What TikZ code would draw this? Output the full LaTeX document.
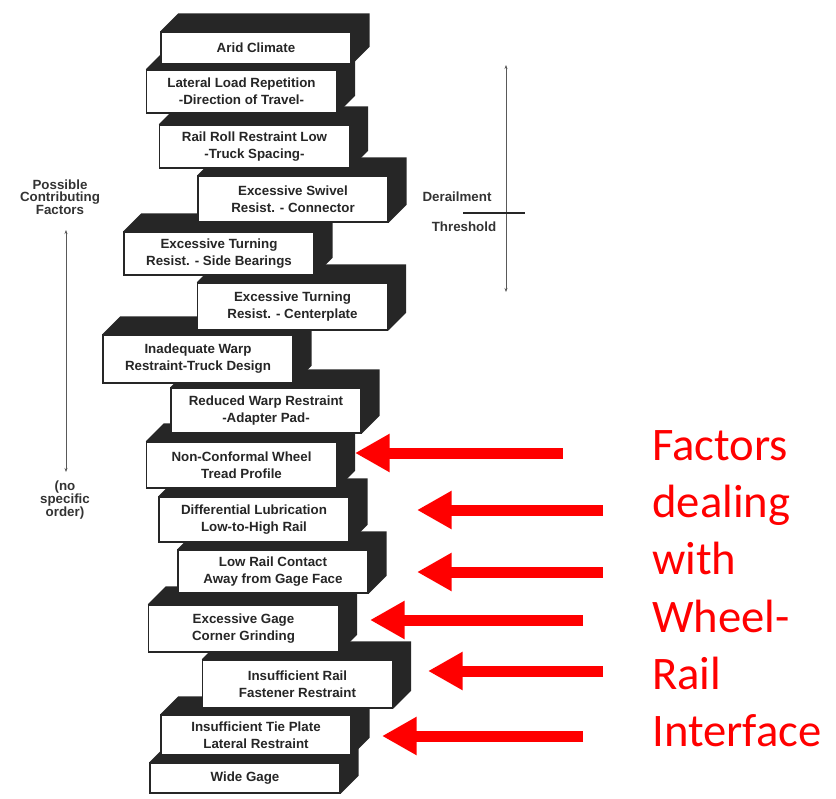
\documentclass[tikz,border=0pt]{standalone}
\usepackage{fontspec}
\setsansfont{Liberation Sans}
\newfontfamily\redfont{Carlito}
\usepackage{tikz}
\usetikzlibrary{arrows.meta,backgrounds}

\begin{document}
\begin{tikzpicture}[x=0.75pt,y=-0.75pt,
    blk/.style={draw=black!85, line width=1.1pt, fill=white, minimum width=142.5pt,
        inner sep=0pt, align=center, text=black!85,
        font=\sffamily\bfseries\fontsize{10}{12.75}\selectfont},
    side/.style={fill=black!85},
    lbl/.style={inner sep=0pt, align=center, text=black!80,
        font=\sffamily\bfseries\fontsize{10}{9.5}\selectfont},
    redarrow/.style={red, line width=8.25pt, -{Triangle[length=26pt,width=27pt]}}]
                \useasboundingbox (0,0) rectangle (836,799);

                \node[blk, minimum height=24pt]    (b1)  at (256,48)    {Arid Climate};
                \node[blk, minimum height=32.25pt] (b2)  at (241.5,91.5) {Lateral Load Repetition\\-Direction of Travel-};
                \node[blk, minimum height=32.25pt] (b3)  at (254.5,146.5) {Rail Roll Restraint Low\\-Truck Spacing-};
                \node[blk, minimum height=34.5pt]  (b4)  at (293,199)   {Excessive Swivel\\Resist. - Connector};
                \node[blk, minimum height=32.25pt] (b5)  at (219,253.5) {Excessive Turning\\Resist. - Side Bearings};
                \node[blk, minimum height=35.25pt] (b6)  at (292.5,306.5) {Excessive Turning\\Resist. - Centerplate};
                \node[blk, minimum height=36pt]    (b7)  at (198,359)   {Inadequate Warp\\Restraint-Truck Design};
                \node[blk, minimum height=33.75pt] (b8)  at (266,410.5) {Reduced Warp Restraint\\-Adapter Pad-};
                \node[blk, minimum height=34.5pt]  (b9)  at (241.5,465) {Non-Conformal Wheel\\Tread Profile};
                \node[blk, minimum height=33.75pt] (b10) at (254,519.5) {Differential Lubrication\\Low-to-High Rail};
                \node[blk, minimum height=32.25pt] (b11) at (273,571.5) {Low Rail Contact\\Away from Gage Face};
                \node[blk, minimum height=35.25pt] (b12) at (243.5,628.5) {Excessive Gage\\Corner Grinding};
                \node[blk, minimum height=36pt]    (b13) at (297.5,684) {Insufficient Rail\\Fastener Restraint};
                \node[blk, minimum height=30pt]    (b14) at (256,735)   {Insufficient Tie Plate\\Lateral Restraint};
                \node[blk, minimum height=22.5pt]  (b15) at (245,778)   {Wide Gage};

                \begin{scope}[on background layer]
                \foreach \n in {1,...,15}
                    \fill[side] (b\n.north west) -- ++(18,-18) -- ([shift={(18,-18)}]b\n.north east)
                        -- ([shift={(18,-18)}]b\n.south east) -- (b\n.south east) -- (b\n.north east) -- cycle;
                \end{scope}

                \node[lbl] (pcf) at (60,197) {Possible\\Contributing\\Factors};
                \node[lbl] (nso) at (65,500) {(no\\specific\\order)};
                \coordinate (pt) at (66,230);
                \coordinate (pb) at (66,472);
                \draw[black!65, line width=0.6pt, {Stealth[length=3pt]}-{Stealth[length=3pt]}] (pt) -- (pb);

                \node[lbl] (der) at (457,197) {Derailment};
                \node[lbl] (thr) at (464,227) {Threshold};
                \coordinate (dt) at (506,65);
                \coordinate (db) at (506,292);
                \coordinate (tl) at (463,213);
                \coordinate (tr) at (525,213);
                \draw[black!65, line width=0.6pt, {Stealth[length=3pt]}-{Stealth[length=3pt]}] (dt) -- (db);
                \draw[black!85, line width=1pt] (tl) -- (tr);

                % arrows to the wheel-rail factors
                \coordinate (s1) at (563,453); \coordinate (e1) at (355,453);
                \coordinate (s2) at (603,510); \coordinate (e2) at (417,510);
                \coordinate (s3) at (603,572); \coordinate (e3) at (417,572);
                \coordinate (s4) at (583,620); \coordinate (e4) at (370,620);
                \coordinate (s5) at (603,671); \coordinate (e5) at (428,671);
                \coordinate (s6) at (583,736); \coordinate (e6) at (382,736);
                \foreach \n in {1,...,6}
                    \draw[redarrow] (s\n) -- (e\n);

                \node[anchor=north west, inner sep=0pt, align=left, text=red,
                    font=\redfont\fontsize{35}{43}\selectfont] (wri) at (652,430)
                    {Factors\\dealing\\with\\Wheel-\\Rail\\Interface};

            \end{tikzpicture}
\end{document}
